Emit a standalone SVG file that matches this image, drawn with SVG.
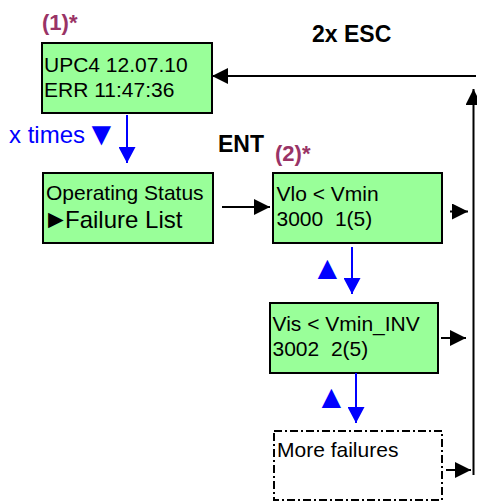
<svg xmlns="http://www.w3.org/2000/svg" width="477" height="501" viewBox="0 0 477 501">
  <style>
    .box { fill: #99FF99; stroke: #000; stroke-width: 2; }
    .dbox { fill: #FFFFFF; stroke: #000; stroke-width: 2; stroke-dasharray: 8 3 2 3; }
    .txt { font-family: "Liberation Sans", Arial, sans-serif; font-size: 21px; fill: #000; white-space: pre; }
    .big { font-size: 24px; }
    .key { font-family: "Liberation Sans", Arial, sans-serif; font-weight: bold; font-size: 23px; fill: #000; }
    .ref { font-family: "Liberation Sans", Arial, sans-serif; font-weight: bold; font-size: 22px; fill: #993366; }
    .blue { font-family: "Liberation Sans", Arial, sans-serif; font-size: 24px; fill: #0000FF; }
    .tri { font-size: 33px; }
    .ptr { font-size: 26px; letter-spacing: -4px; }
    .line { fill: none; stroke: #000; stroke-width: 2; }
    .bline { fill: none; stroke: #0000FF; stroke-width: 2; }
  </style>
  <defs>
    <marker id="ah" markerUnits="userSpaceOnUse" markerWidth="16" markerHeight="16" viewBox="0 0 16 16" refX="16" refY="8" orient="auto">
      <path d="M0,0 L16,8 L0,16 Z" fill="#000"/>
    </marker>
    <marker id="ahb" markerUnits="userSpaceOnUse" markerWidth="16" markerHeight="17" viewBox="0 0 16 17" refX="16" refY="8.5" orient="auto">
      <path d="M0,0 L16,8.5 L0,17 Z" fill="#0000FF"/>
    </marker>
  </defs>

  <!-- labels -->
  <text class="ref" x="42" y="30">(1)*</text>
  <text class="ref" x="275" y="161">(2)*</text>
  <text class="key" x="312" y="42">2x ESC</text>
  <text class="key" x="218" y="152">ENT</text>
  <text class="blue" x="9" y="143">x times<tspan class="tri" x="85" dy="2">▼</tspan></text>
  <text class="blue tri" x="311" y="279">▲</text>
  <text class="blue tri" x="315" y="408">▲</text>

  <!-- screens -->
  <g id="start">
    <rect class="box" x="42" y="43" width="170" height="70"/>
    <text class="txt" x="44" y="72">UPC4 12.07.10</text>
    <text class="txt" x="44" y="97">ERR 11:47:36</text>
  </g>
  <g id="menu">
    <rect class="box" x="43" y="173" width="170" height="70"/>
    <text class="txt" x="46" y="200">Operating Status</text>
    <text class="txt big" y="228"><tspan class="ptr" x="43">►</tspan><tspan x="65">Failure List</tspan></text>
  </g>
  <g id="failure1">
    <rect class="box" x="273" y="173" width="169" height="70"/>
    <text class="txt" x="276.5" y="201">Vlo &lt; Vmin</text>
    <text class="txt" x="276.5" y="226">3000  1(5)</text>
  </g>
  <g id="failure2">
    <rect class="box" x="270" y="303" width="168" height="70"/>
    <text class="txt" x="272.5" y="331">Vis &lt; Vmin_INV</text>
    <text class="txt" x="272.5" y="356">3002  2(5)</text>
  </g>
  <g id="more">
    <rect class="dbox" x="274" y="431" width="168" height="69"/>
    <text class="txt" x="277" y="457">More failures</text>
  </g>

  <!-- connectors -->
  <g id="connectors">
    <path class="line" d="M476,76 H212" marker-end="url(#ah)"/>
    <path class="line" d="M473.5,475 V89" marker-end="url(#ah)"/>
    <path class="line" d="M222,207 H270" marker-end="url(#ah)"/>
    <path class="line" d="M450,211.5 H468" marker-end="url(#ah)"/>
    <path class="line" d="M441,338 H466" marker-end="url(#ah)"/>
    <path class="line" d="M446,470 H471" marker-end="url(#ah)"/>
    <path class="bline" d="M127,115 V163" marker-end="url(#ahb)"/>
    <path class="bline" d="M352,247 V294" marker-end="url(#ahb)"/>
    <path class="bline" d="M356,373 V423" marker-end="url(#ahb)"/>
  </g>
</svg>
